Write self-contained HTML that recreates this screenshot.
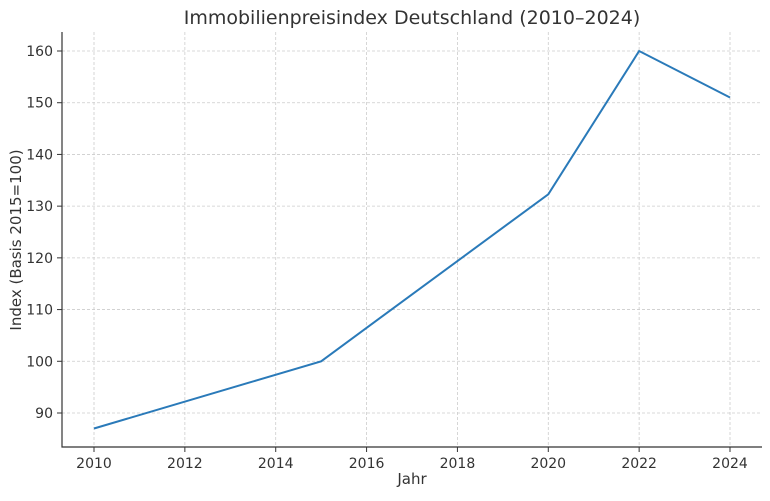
<!DOCTYPE html>
<html><head><meta charset="utf-8"><style>
body{margin:0;background:#fff;font-family:"Liberation Sans","DejaVu Sans",sans-serif}
svg text{font-family:"DejaVu Sans","Liberation Sans",sans-serif;fill:#333}
</style></head><body>
<svg id="chart" width="770" height="496" viewBox="0 0 770 496">
<text x="412" y="24" text-anchor="middle" font-size="19">Immobilienpreisindex Deutschland (2010–2024)</text>
<g id="grid"></g>
<g id="axes"></g>
<path id="line" fill="none" stroke="#2a7ab9" stroke-width="2"></path>
<text x="412" y="484" text-anchor="middle" font-size="15">Jahr</text>
<text transform="translate(21,240) rotate(-90)" text-anchor="middle" font-size="15">Index (Basis 2015=100)</text>
</svg>
<script>
const years=[2010,2015,2020,2022,2024];
const values=[87,100,132.3,160,151];
const xTicks=[2010,2012,2014,2016,2018,2020,2022,2024];
const yTicks=[90,100,110,120,130,140,150,160];
const L=62,R=762,T=32,B=447;
const x=v=>94+(v-2010)*(730-94)/14;
const y=v=>51+(160-v)*(413-51)/70;
const ns="http://www.w3.org/2000/svg";
const grid=document.getElementById('grid'),axes=document.getElementById('axes');
function mk(tag,attrs,parent){const e=document.createElementNS(ns,tag);for(const k in attrs)e.setAttribute(k,attrs[k]);parent.appendChild(e);return e;}
xTicks.forEach(t=>{
 const g=mk('line',{x1:x(t),x2:x(t),y1:T,y2:B,stroke:'#ccc','stroke-dasharray':'3,2','stroke-width':0.8},grid);
 
 
 mk('line',{x1:x(t),x2:x(t),y1:B,y2:B+5,stroke:'#333'},axes);
 const tx=mk('text',{x:x(t),y:B+21,'text-anchor':'middle','font-size':14},axes);tx.textContent=t;
 
 
});
yTicks.forEach(t=>{
 const g=mk('line',{x1:L,x2:R,y1:y(t),y2:y(t),stroke:'#ccc','stroke-dasharray':'3,2','stroke-width':0.8},grid);
 
 
 mk('line',{x1:L-5,x2:L,y1:y(t),y2:y(t),stroke:'#333'},axes);
 const tx=mk('text',{x:L-9,y:y(t)+5,'text-anchor':'end','font-size':14},axes);tx.textContent=t;
 
 
});
const ax=mk('path',{d:`M${L},${T}V${B}H${R}`,fill:'none',stroke:'#333','stroke-width':1.2},axes);


document.getElementById('line').setAttribute('d',years.map((yr,i)=>(i?'L':'M')+x(yr)+','+y(values[i])).join(''));
</script>
</body></html>
